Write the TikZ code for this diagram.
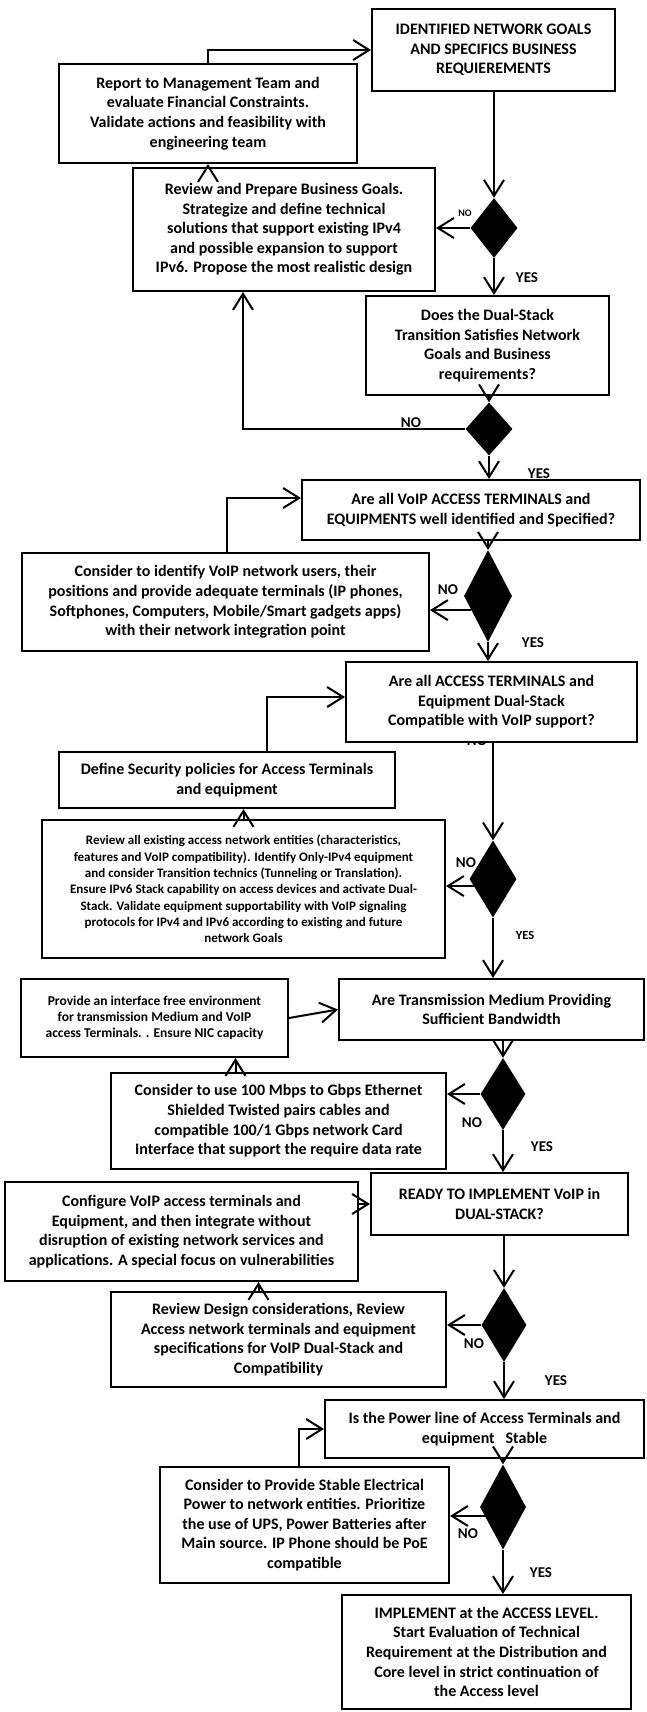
\documentclass[tikz,border=0pt]{standalone}
\usepackage{fontspec}
\setmainfont{Carlito}
\usetikzlibrary{arrows.meta,shapes.geometric}
\begin{document}
\begin{tikzpicture}[x=1pt,y=-1pt,
  box/.style={draw, line width=2pt, fill=white, align=center, inner sep=0pt, font=\fontsize{16}{19.6}\selectfont\bfseries},
  smalltext/.style={font=\fontsize{13.5}{16.3}\selectfont\bfseries},
  smallertext/.style={font=\fontsize{13}{16.3}\selectfont\bfseries},
  dia/.style={diamond, fill=black, draw=none, inner sep=0pt},
  arr/.style={line width=2pt, -{Straight Barb[length=16pt,width=20pt]}},
  lbl/.style={font=\fontsize{15}{15}\selectfont\bfseries, inner sep=0pt},
  tinylbl/.style={font=\fontsize{10}{10}\selectfont\bfseries, inner sep=0pt}]
\useasboundingbox (0,0) rectangle (647,1712);
\fill[white] (0,0) rectangle (647,1712);

% label partly hidden under box G
\node[lbl] (noG) at (477,741) {NO};

\node[box, minimum width=243pt, minimum height=82pt] (A) at (493.5,50) {IDENTIFIED NETWORK GOALS\\AND SPECIFICS BUSINESS\\REQUIEREMENTS};
\node[box, minimum width=298pt, minimum height=99pt] (B) at (208,113.5) {Report to Management Team and\\evaluate Financial Constraints.\\Validate actions and feasibility with\\engineering team};
\node[box, minimum width=302pt, minimum height=123pt] (C) at (284,229.5) {Review and Prepare Business Goals.\\Strategize and define technical\\solutions that support existing IPv4\\and possible expansion to support\\IPv6. Propose the most realistic design};
\node[box, minimum width=243pt, minimum height=99pt] (D) at (487.5,345.5) {Does the Dual-Stack\\Transition Satisfies Network\\Goals and Business\\requirements?};
\node[box, minimum width=338pt, minimum height=60pt] (F) at (471,510) {Are all VoIP ACCESS TERMINALS and\\EQUIPMENTS well identified and Specified?};
\node[box, minimum width=407pt, minimum height=98pt] (E) at (225.5,602) {Consider to identify VoIP network users, their\\positions and provide adequate terminals (IP phones,\\Softphones, Computers, Mobile/Smart gadgets apps)\\with their network integration point};
\node[box, minimum width=291pt, minimum height=80pt] (G) at (491.5,702) {Are all ACCESS TERMINALS and\\Equipment Dual-Stack\\Compatible with VoIP support?};
\node[box, minimum width=336pt, minimum height=56pt] (H) at (227,780) {Define Security policies for Access Terminals\\and equipment};
\node[box, smallertext, minimum width=403pt, minimum height=138pt] (I) at (243.5,889) {Review all existing access network entities (characteristics,\\features and VoIP compatibility). Identify Only-IPv4 equipment\\and consider Transition technics (Tunneling or Translation).\\Ensure IPv6 Stack capability on access devices and activate Dual-\\Stack. Validate equipment supportability with VoIP signaling\\protocols for IPv4 and IPv6 according to existing and future\\network Goals};
\node[box, minimum width=305pt, minimum height=61pt] (J) at (491.5,1009.5) {Are Transmission Medium Providing\\Sufficient Bandwidth};
\node[box, smalltext, minimum width=267pt, minimum height=78pt] (K) at (154.5,1018) {Provide an interface free environment\\for transmission Medium and VoIP\\access Terminals. . Ensure NIC capacity};
\node[box, minimum width=335pt, minimum height=96pt] (L) at (278.5,1121) {Consider to use 100 Mbps to Gbps Ethernet\\Shielded Twisted pairs cables and\\compatible 100/1 Gbps network Card\\Interface that support the require data rate};
\node[box, minimum width=257pt, minimum height=62pt] (M) at (499.5,1204) {READY TO IMPLEMENT VoIP in\\DUAL-STACK?};
\node[box, minimum width=353pt, minimum height=99pt] (N) at (181.5,1231.5) {Configure VoIP access terminals and\\Equipment, and then integrate without\\disruption of existing network services and\\applications. A special focus on vulnerabilities};
\node[box, minimum width=335pt, minimum height=95pt] (O) at (278.5,1339.5) {Review Design considerations, Review\\Access network terminals and equipment\\specifications for VoIP Dual-Stack and\\Compatibility};
\node[box, minimum width=319pt, minimum height=58pt] (P) at (484.5,1429) {Is the Power line of Access Terminals and\\equipment\ \ \ Stable};
\node[box, minimum width=289pt, minimum height=116pt] (Q) at (304.5,1525) {Consider to Provide Stable Electrical\\Power to network entities. Prioritize\\the use of UPS, Power Batteries after\\Main source. IP Phone should be PoE\\compatible};
\node[box, minimum width=289pt, minimum height=114pt] (R) at (486.5,1652) {IMPLEMENT at the ACCESS LEVEL.\\Start Evaluation of Technical\\Requirement at the Distribution and\\Core level in strict continuation of\\the Access level};

% decision diamonds
\node[dia, minimum width=47pt, minimum height=60pt] (D1) at (494,228) {};
\node[dia, minimum width=47pt, minimum height=53pt] (D2) at (489,429) {};
\node[dia, minimum width=48pt, minimum height=92pt] (D3) at (488,596) {};
\node[dia, minimum width=47pt, minimum height=77pt] (D4) at (493,879) {};
\node[dia, minimum width=45pt, minimum height=72pt] (D5) at (503,1094) {};
\node[dia, minimum width=45pt, minimum height=74pt] (D6) at (504,1325) {};
\node[dia, minimum width=46pt, minimum height=85pt] (D7) at (503,1507) {};

% connectors
\draw[arr] (B.north) |- (A.west);
\draw[arr] (A.south) -- (A.south -| D1.north) -- (D1.north);
\draw[arr] (D1.west) -- (D1.west -| C.east);
\draw[arr] (C.north -| B.south) -- (B.south);
\draw[arr] (D1.south) -- (D1.south |- D.north);
\draw[arr] (D2.north |- D.south) -- (D2.north);
\draw[arr] (D2.west) -| ([xshift=-41pt]C.south);
\draw[arr] (D2.south) -- (D2.south |- F.north);
\draw[arr] ([xshift=1.5pt]E.north) |- ([yshift=12pt]F.west);
\draw[arr] (D3.north |- F.south) -- (D3.north);
\draw[arr] (D3.220) -- (D3.220 -| E.east);
\draw[arr] (D3.south) -- (D3.south |- G.north);
\draw[arr] ([xshift=40pt]H.north) |- ([yshift=5pt]G.west);
\draw[arr] (I.north) -- (I.north |- H.south);
\draw[arr] (D4.north |- G.south) -- (D4.north);
\draw[arr] (D4.200) -- (D4.200 -| I.east);
\draw[arr] (D4.south) -- (D4.south |- J.north);
\draw[arr] (K.east) -- (J.west);
\draw[arr] ([xshift=-43pt]L.north) -- ([xshift=-43pt]L.north |- K.south);
\draw[arr] (D5.north |- J.south) -- (D5.north);
\draw[arr] (D5.west) -- (D5.west -| L.east);
\draw[arr] (D5.south) -- (D5.south |- M.north);
\draw[arr] (M.west -| N.east) -- (M.west);
\draw[arr] ([xshift=-20pt]O.north) -- ([xshift=-20pt]O.north |- N.south);
\draw[arr] (D6.north |- M.south) -- (D6.north);
\draw[arr] (D6.west) -- (D6.west -| O.east);
\draw[arr] (D6.south) -- (D6.south |- P.north);
\draw[arr] ([xshift=-6pt]Q.north) |- (P.west);
\draw[arr] (D7.north |- P.south) -- (D7.north);
\draw[arr] (D7.206) -- (D7.206 -| Q.east);
\draw[arr] (D7.south) -- (D7.south |- R.north);

% branch labels
\node[tinylbl] (no1) at (465,213) {NO};
\node[lbl] (yes1) at (527,278) {YES};
\node[lbl] (no2) at (411,423) {NO};
\node[lbl] (yes2) at (539,474) {YES};
\node[lbl] (no3) at (448,590) {NO};
\node[lbl] (yes3) at (533,643) {YES};
\node[lbl] (no4) at (466,863) {NO};
\node[lbl, font=\fontsize{12.5}{12.5}\selectfont\bfseries] (yes4) at (525,935) {YES};
\node[lbl] (no5) at (472,1123) {NO};
\node[lbl] (yes5) at (542,1147) {YES};
\node[lbl] (no6) at (474,1344) {NO};
\node[lbl] (yes6) at (556,1381) {YES};
\node[lbl] (no7) at (468,1534) {NO};
\node[lbl] (yes7) at (541,1573) {YES};
\end{tikzpicture}
\end{document}
